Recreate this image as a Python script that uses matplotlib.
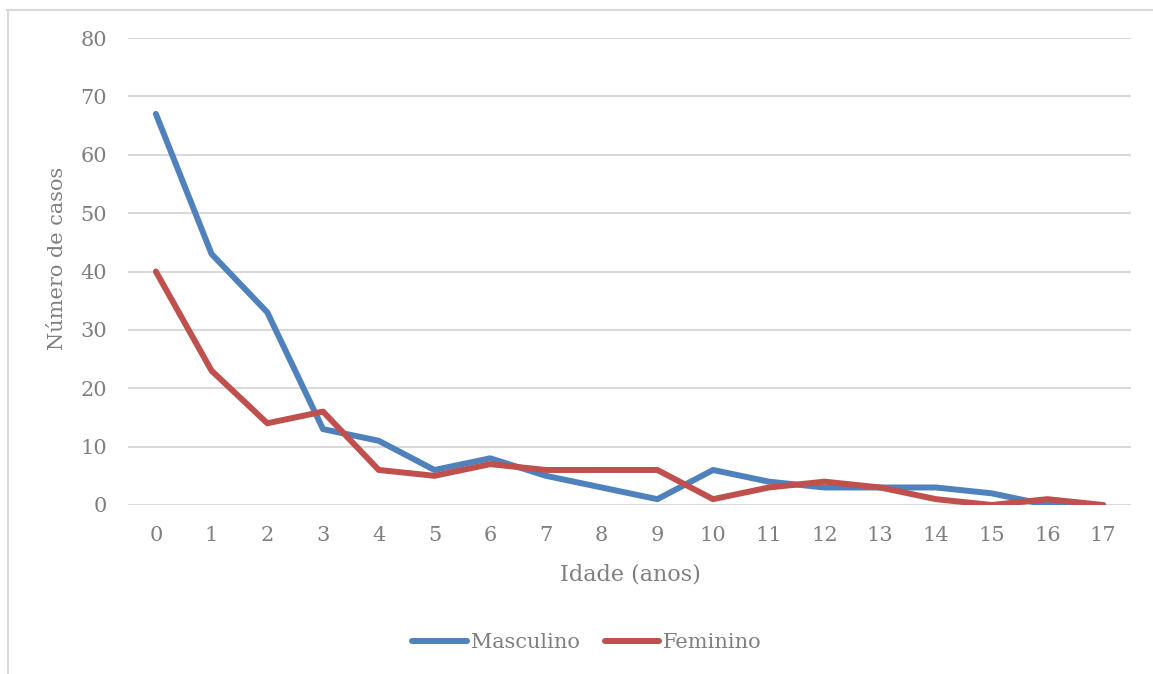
#!/usr/bin/env python

'''
casos por idade e sexo - grafico de linhas
'''

import matplotlib
matplotlib.use('Agg')
import matplotlib.pyplot as plt
from matplotlib.lines import Line2D


IDADES = list(range(18))
MASCULINO = [67, 43, 33, 13, 11, 6, 8, 5, 3, 1, 6, 4, 3, 3, 3, 2, 0, 0]
FEMININO = [40, 23, 14, 16, 6, 5, 7, 6, 6, 6, 1, 3, 4, 3, 1, 0, 1, 0]
Y_TICKS = list(range(0, 90, 10))
SERIES = ['Masculino', 'Feminino']

BLUE = '#4f81bd'
RED = '#c0504d'
TEXT = '#7f7f7f'
GRID = '#d9d9d9'
FONT = 'DejaVu Serif'
IMG_FILE = 'out.png'


def make_png(imgfile=IMG_FILE):
    plt.rcParams['font.family'] = FONT
    fig = plt.figure(figsize=(11.53, 6.74), dpi=100)

    # light frame around the chart (only top and left edges visible)
    fig.add_artist(Line2D([7 / 1153, 1.0], [1 - 9.5 / 674] * 2, color=GRID,
                          lw=1.5, transform=fig.transFigure))
    fig.add_artist(Line2D([7.5 / 1153] * 2, [0.0, 1 - 9.5 / 674], color=GRID,
                          lw=1.5, transform=fig.transFigure))

    ax = fig.add_axes([128 / 1153, 1 - 505 / 674, (1131 - 128) / 1153, (505 - 38) / 674])
    ax.plot(IDADES, MASCULINO, color=BLUE, lw=4.3, solid_joinstyle='round',
            solid_capstyle='round', label=SERIES[0], zorder=3)
    ax.plot(IDADES, FEMININO, color=RED, lw=4.3, solid_joinstyle='round',
            solid_capstyle='round', label=SERIES[1], zorder=4)

    ax.set_xlim(-0.5, 17.5)
    ax.set_ylim(0, 80)
    ax.set_xticks(IDADES)
    ax.set_yticks(Y_TICKS)
    ax.tick_params(length=0, labelsize=15, labelcolor=TEXT)
    ax.tick_params(axis='x', pad=15)
    ax.tick_params(axis='y', pad=15)
    ax.grid(axis='y', color=GRID, lw=1.5)
    ax.set_axisbelow(True)
    for sp in ax.spines.values():
        sp.set_visible(False)
    ax.patch.set_alpha(0)

    fig.text(630 / 1153, 1 - 575 / 674, 'Idade (anos)', ha='center', va='center',
             fontsize=16, color=TEXT)
    fig.text(58 / 1153, 1 - 258.5 / 674, 'Número de casos', ha='center', va='center',
             rotation=90, fontsize=15, color=TEXT)

    leg = fig.legend(loc='center', bbox_to_anchor=(587 / 1153, 1 - 643 / 674), ncol=2,
                     frameon=False, fontsize=15, handlelength=2.6, handletextpad=0.2,
                     columnspacing=1.2)
    for t in leg.get_texts():
        t.set_color(TEXT)

    fig.savefig(imgfile, dpi=100)
    plt.close(fig)
    return imgfile


if __name__ == '__main__':
    make_png()
